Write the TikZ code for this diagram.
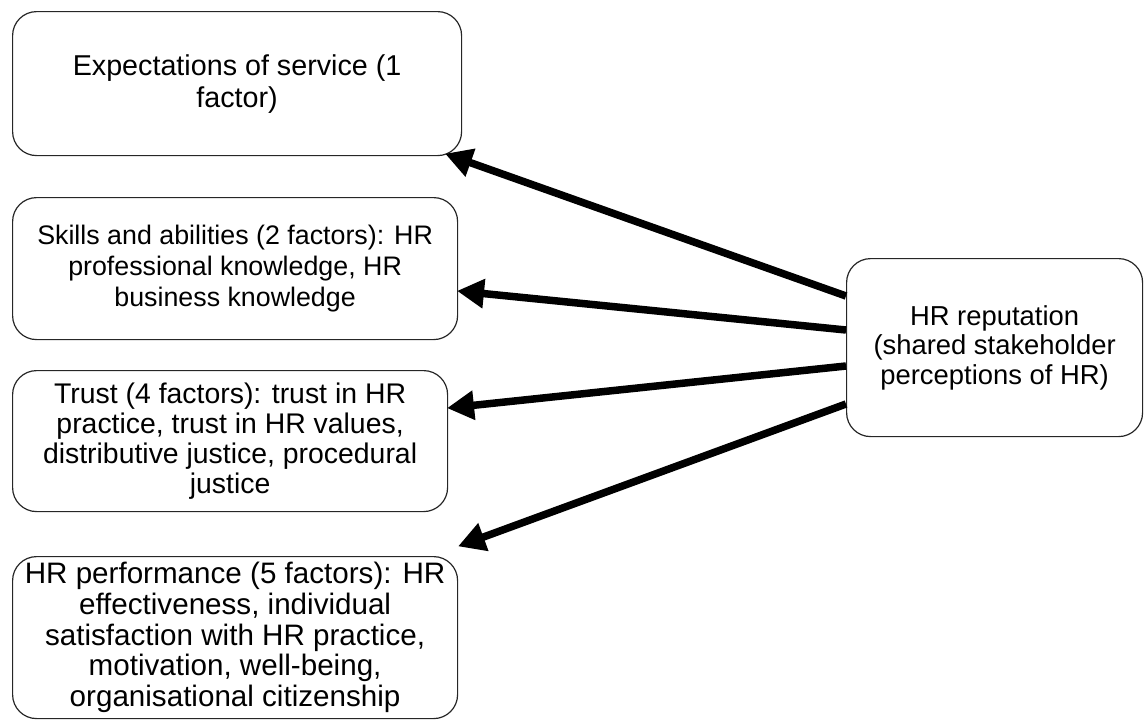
\documentclass[tikz,border=0pt]{standalone}
\usepackage{fontspec}
\setmainfont{Liberation Sans}
\usetikzlibrary{arrows.meta}
\begin{document}
\begin{tikzpicture}[x=1pt,y=-1pt,
  box/.style={draw=black!85,line width=1.2pt,rounded corners=24pt,align=center,inner sep=0pt,anchor=north west},
  arr/.style={line width=7.5pt,-{Triangle[length=27pt,width=28pt]},shorten >=-1pt}]
\useasboundingbox (0,0) rectangle (1144,720);
\node[box,minimum width=449pt,minimum height=144pt,font=\fontsize{28.7}{32}\selectfont] (exp) at (12,11)
  {Expectations of service (1\\factor)};
\node[box,minimum width=445pt,minimum height=142pt,font=\fontsize{26.8}{31}\selectfont] (ski) at (12,197)
  {Skills and abilities (2 factors): HR\\professional knowledge, HR\\business knowledge};
\node[box,minimum width=435pt,minimum height=141pt,font=\fontsize{28.4}{30}\selectfont] (tru) at (12,370)
  {Trust (4 factors): trust in HR\\practice, trust in HR values,\\distributive justice, procedural\\justice};
\node[box,minimum width=445pt,minimum height=162pt,font=\fontsize{29.6}{30.7}\selectfont] (per) at (12,556)
  {HR performance (5 factors): HR\\effectiveness, individual\\satisfaction with HR practice,\\motivation, well-being,\\organisational citizenship};
\node[box,minimum width=296pt,minimum height=178pt,font=\fontsize{27.4}{29.5}\selectfont] (rep) at (846,258)
  {HR reputation\\(shared stakeholder\\perceptions of HR)};
\coordinate (s1) at (846,296);
\coordinate (s2) at (846,330);
\coordinate (s3) at (846,366);
\coordinate (s4) at (846,404);
\coordinate (e1) at (446,154);
\coordinate (e2) at (458,291);
\coordinate (e3) at (448,408);
\coordinate (e4) at (459,546);
\draw[arr] (s1) -- (e1);
\draw[arr] (s2) -- (e2);
\draw[arr] (s3) -- (e3);
\draw[arr] (s4) -- (e4);
\end{tikzpicture}
\end{document}
